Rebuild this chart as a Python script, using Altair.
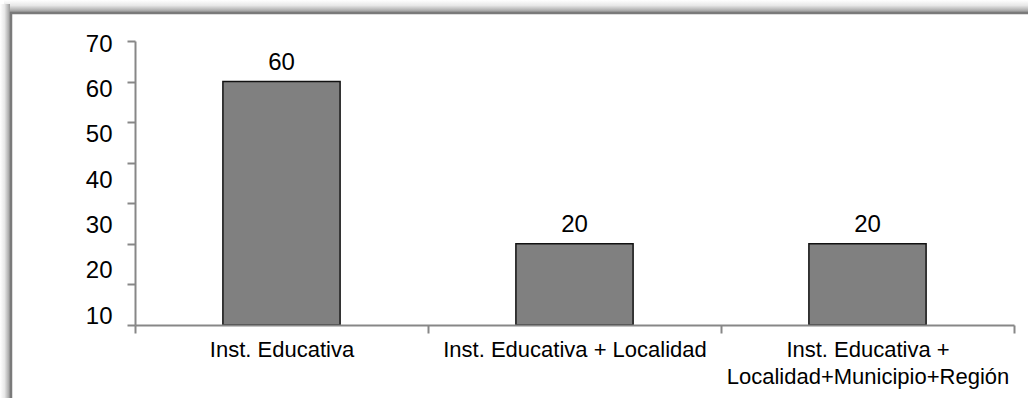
import altair as alt
import pandas as pd

# Categories and values of the bar chart
categories = [
    "Inst. Educativa",
    "Inst. Educativa + Localidad",
    "Inst. Educativa +\nLocalidad+Municipio+Región",
]
values = [60, 20, 20]

df = pd.DataFrame({"cat": categories, "val": values})

FONT = "Liberation Sans"
AXIS_GRAY = "#878787"

x_enc = alt.X(
    "cat:N",
    sort=categories,
    title=None,
    scale=alt.Scale(paddingInner=0, paddingOuter=0),
    axis=alt.Axis(
        labelAngle=0,
        labelExpr="split(datum.label, '\\n')",
        labelFont=FONT,
        labelFontSize=22,
        labelColor="black",
        labelLineHeight=27,
        labelPadding=6,
        labelLimit=0,
        tickBand="extent",
        tickSize=8,
        tickColor=AXIS_GRAY,
        tickWidth=2,
        domainColor=AXIS_GRAY,
        domainWidth=2,
        zindex=1,
    ),
)

y_enc = alt.Y(
    "val:Q",
    title=None,
    scale=alt.Scale(domain=[0, 70], nice=False),
    axis=alt.Axis(
        values=[0, 10, 20, 30, 40, 50, 60, 70],
        labelExpr="datum.value == 0 ? '' : datum.label",
        labelOffset={
            "condition": {"test": "datum.value > 100", "value": 0},
            "expr": "3 + (70 - datum.value) * 0.48",
        },
        labelFont=FONT,
        labelFontSize=24,
        labelColor="black",
        labelPadding=15,
        tickSize=8,
        tickColor=AXIS_GRAY,
        tickWidth=2,
        domainColor=AXIS_GRAY,
        domainWidth=2,
        grid=False,
        zindex=1,
    ),
)

one = alt.Data(values=[{}])

# Soft shadow above and to the left of the outer frame
shadow_top = alt.Chart(one).mark_rect(
    color=alt.LinearGradient(
        gradient="linear",
        x1=0, x2=0, y1=0, y2=1,
        stops=[
            alt.GradientStop(offset=0, color="#ffffff"),
            alt.GradientStop(offset=0.45, color="#e8e8e8"),
            alt.GradientStop(offset=1, color="#9a9a9a"),
        ],
    )
).encode(x=alt.value(-131), x2=alt.value(910), y=alt.value(-41), y2=alt.value(-29))

shadow_left = alt.Chart(one).mark_rect(
    color=alt.LinearGradient(
        gradient="linear",
        x1=0, x2=1, y1=0, y2=0,
        stops=[
            alt.GradientStop(offset=0, color="#ffffff"),
            alt.GradientStop(offset=0.45, color="#e8e8e8"),
            alt.GradientStop(offset=1, color="#9a9a9a"),
        ],
    )
).encode(x=alt.value(-135), x2=alt.value(-125), y=alt.value(-37), y2=alt.value(380))

frame = alt.Chart(one).mark_rect(
    fill="transparent", stroke="#7a7a7a", strokeWidth=2.5
).encode(x=alt.value(-124), x2=alt.value(910), y=alt.value(-28), y2=alt.value(380))

bars = alt.Chart(df).mark_bar(
    color="#808080", stroke="#111111", strokeWidth=1.5,
    width=alt.RelativeBandSize(0.4),
).encode(x=x_enc, y=y_enc)

labels = alt.Chart(df).mark_text(
    font=FONT, fontSize=24, color="black", baseline="alphabetic", dy=-12
).encode(x=alt.X("cat:N", sort=categories), y="val:Q", text="val:Q")

chart = (
    alt.layer(shadow_top, shadow_left, frame, bars, labels)
    .properties(
        width=879,
        height=284,
        autosize=alt.AutoSizeParams(type="none"),
        padding={"left": 135, "top": 41, "right": 14, "bottom": 73},
        background="white",
    )
    .configure_view(stroke=None)
)

chart.save("out.html", embed_options={"renderer": "svg", "actions": False})
